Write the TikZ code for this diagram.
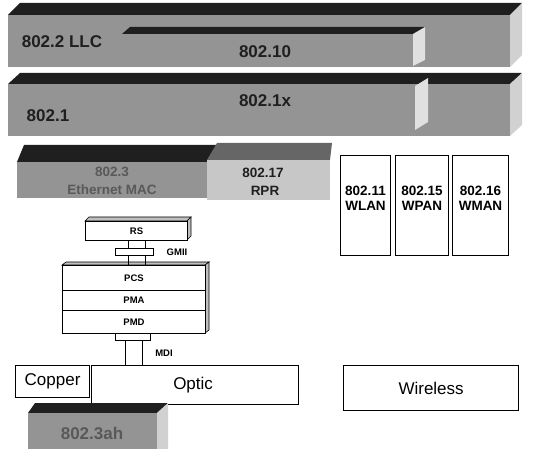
\documentclass[tikz,border=0pt]{standalone}
\usepackage{fontspec}
\setmainfont{Liberation Sans}
\definecolor{barfront}{gray}{0.58}
\definecolor{bartop}{gray}{0.12}
\definecolor{barside}{gray}{0.82}
\definecolor{innerside}{gray}{0.88}
\definecolor{rprfront}{gray}{0.78}
\definecolor{rprtop}{gray}{0.40}
\definecolor{txtdark}{gray}{0.12}
\definecolor{faceside}{gray}{0.75}
\begin{document}
\begin{tikzpicture}[x=1pt,y=-1pt,
  box/.style={draw=black, line width=1pt, fill=white, inner sep=0pt, anchor=north west},
  big/.style={font=\bfseries\fontsize{17}{17}\selectfont, text=txtdark, inner sep=0pt},
  mid/.style={font=\bfseries\fontsize{13.5}{14}\selectfont, text=txtdark, inner sep=0pt},
  wl/.style={font=\bfseries\fontsize{13.5}{14}\selectfont, text=black, inner sep=0pt},
  sm/.style={font=\bfseries\fontsize{9.5}{10}\selectfont, text=black, inner sep=0pt},
  med/.style={font=\fontsize{17}{17}\selectfont, text=black, inner sep=0pt}]
\useasboundingbox (0,0) rectangle (533,449);

% ---- bar 1: 802.2 LLC / 802.10
\fill[barfront] (8,15) rectangle (510,67);
\fill[bartop] (8,15) -- (20,3) -- (522,3) -- (510,15) -- cycle;
\fill[barside] (510,15) -- (522,3) -- (522,55) -- (510,67) -- cycle;
\fill[bartop] (122,34) -- (130,27) -- (425,27) -- (417,34) -- cycle;
\fill[innerside] (413,34) -- (425,27) -- (425,60) -- (413,66) -- cycle;
\node[big] (llc) at (62,42) {802.2 LLC};
\node[big] (n10) at (265,52) {802.10};

% ---- bar 2: 802.1 / 802.1x
\fill[barfront] (8,84) rectangle (510,136);
\fill[bartop] (8,84) -- (20,73) -- (522,73) -- (510,84) -- cycle;
\fill[barside] (510,84) -- (522,73) -- (522,125) -- (510,136) -- cycle;
\fill[innerside] (415,86) -- (428,78) -- (428,122) -- (415,130) -- cycle;
\node[big] (n1) at (48,116) {802.1};
\node[big] (n1x) at (265,101) {802.1x};

% ---- 802.3 Ethernet MAC
\fill[barfront] (17,162) rectangle (207,198);
\fill[bartop] (17,162) -- (24,145) -- (217,145) -- (207,162) -- cycle;
\node[mid, text=black!65] (eth1) at (112,172) {802.3};
\node[mid, text=black!65] (eth2) at (112,190) {Ethernet MAC};

% ---- 802.17 RPR
\fill[rprfront] (207,160) rectangle (330,200);
\fill[rprtop] (207,160) -- (217,143) -- (332,143) -- (330,160) -- cycle;
\node[mid] (rpr1) at (263,173) {802.17};
\node[mid] (rpr2) at (265,191) {RPR};

% ---- wireless columns
\node[box, minimum width=50pt, minimum height=100pt] (wlan) at (340,155) {};
\node[box, minimum width=53pt, minimum height=100pt] (wpan) at (395,155) {};
\node[box, minimum width=56pt, minimum height=100pt] (wman) at (452,155) {};
\node[wl] (t11) at ([yshift=-36pt]wlan.north) {802.11};
\node[wl] (t11b) at ([yshift=-51pt]wlan.north) {WLAN};
\node[wl] (t15) at ([yshift=-36pt]wpan.north) {802.15};
\node[wl] (t15b) at ([yshift=-51pt]wpan.north) {WPAN};
\node[wl] (t16) at ([yshift=-36pt]wman.north) {802.16};
\node[wl] (t16b) at ([yshift=-51pt]wman.north) {WMAN};

% ---- RS
\fill[faceside, draw=black, line width=0.6pt] (85,221) -- (89,217) -- (191,217) -- (187,221) -- cycle;
\fill[faceside, draw=black, line width=0.6pt] (187,221) -- (191,217) -- (191,236) -- (187,240) -- cycle;
\node[box, minimum width=102pt, minimum height=19pt] (rs) at (85,221) {};
\node[sm] at (rs.center) {RS};

% ---- PCS / PMA / PMD stack
\fill[faceside, draw=black, line width=0.6pt] (62,265) -- (66,262) -- (209,262) -- (205,265) -- cycle;
\fill[faceside, draw=black, line width=0.6pt] (205,265) -- (209,262) -- (209,330) -- (205,333) -- cycle;
\node[box, minimum width=143pt, minimum height=25pt] (pcs) at (62,265) {};
\node[box, minimum width=143pt, minimum height=20pt] (pma) at (62,290) {};
\node[box, minimum width=143pt, minimum height=23pt] (pmd) at (62,310) {};
\node[sm] at (pcs.center) {PCS};
\node[sm] at (pma.center) {PMA};
\node[sm] at (pmd.center) {PMD};

% ---- GMII plate and lines
\coordinate (c1) at ([xshift=-8pt]rs.south);
\coordinate (c2) at ([xshift=9pt]rs.south);
\draw[line width=0.9pt] (c1) -- (c1 |- pcs.north);
\draw[line width=0.9pt] (c2) -- (c2 |- pcs.north);
\node[box, minimum width=38pt, minimum height=7pt, line width=0.8pt] (gplate) at (115,248) {};
\node[sm] (gmii) at (177,252) {GMII};

% ---- MDI
\node[box, minimum width=35pt, minimum height=7pt, line width=0.8pt] (mplate) at (115,333) {};
\node[box, minimum width=17pt, minimum height=25pt, line width=0.8pt] (mdi) at (125,340) {};
\node[sm] (mdil) at (164,353) {MDI};

% ---- Copper / Optic / Wireless
\node[box, minimum width=207pt, minimum height=39pt, line width=1.2pt] (optic) at (91,365) {};
\node[box, minimum width=74pt, minimum height=32pt, line width=1.2pt] (copper) at (15,365) {};
\node[med] at (copper.center) {Copper};
\node[med] at ([xshift=-2pt]optic.center) {Optic};
\node[box, minimum width=175pt, minimum height=45pt, line width=1.2pt] (wireless) at (343,365) {};
\node[med] at (wireless.center) {Wireless};

% ---- 802.3ah
\fill[bartop] (28,413) -- (35,403) -- (168,403) -- (157,413) -- cycle;
\fill[barfront] (28,413) rectangle (157,449);
\fill[barside] (157,413) -- (168,403) -- (168,449) -- (157,449) -- cycle;
\node[big, text=black!65] (ah) at (92,433) {802.3ah};
\end{tikzpicture}
\end{document}
